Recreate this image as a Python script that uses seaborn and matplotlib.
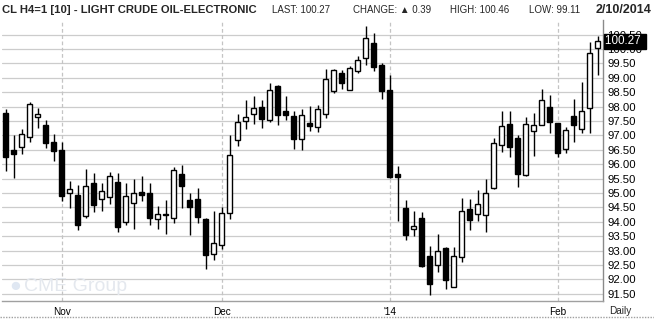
import numpy as np
import pandas as pd
import matplotlib
matplotlib.use("Agg")
import matplotlib.pyplot as plt
from matplotlib.lines import Line2D
import seaborn as sns

# ---------------- data ----------------
opens = [97.77, 96.50, 96.59, 96.94, 97.63, 97.35, 96.77, 96.50, 94.99, 94.92,
         94.19, 95.34, 94.78, 94.88, 95.38, 93.99, 94.65, 95.03, 95.00, 94.11,
         94.27, 94.13, 95.66, 94.76, 94.80, 94.10, 92.88, 93.21, 94.30, 96.83,
         97.49, 97.74, 97.98, 97.53, 98.71, 97.84, 97.67, 96.87, 97.42, 97.31,
         97.76, 98.53, 99.16, 98.59, 99.23, 99.68, 100.20, 99.45, 98.58, 95.66,
         94.47, 93.74, 94.14, 92.82, 92.49, 93.09, 91.75, 92.79, 94.45, 94.26,
         94.23, 95.17, 96.66, 97.39, 96.91, 95.62, 97.15, 97.38, 97.98, 97.42,
         96.53, 97.68, 97.22, 97.94, 100.03]
highs = [97.91, 97.02, 97.23, 98.16, 97.95, 97.54, 97.05, 96.76, 95.43, 95.28,
         95.84, 95.69, 95.34, 95.72, 95.70, 95.34, 95.49, 95.58, 95.34, 94.55,
         94.76, 95.90, 95.98, 94.99, 95.17, 94.13, 94.38, 94.53, 97.02, 97.74,
         98.23, 98.37, 98.23, 98.82, 98.75, 98.37, 97.84, 97.92, 98.02, 98.06,
         99.31, 99.30, 99.27, 99.41, 99.76, 100.80, 100.56, 99.52, 99.11, 95.95,
         94.76, 94.38, 94.34, 93.17, 93.57, 93.12, 93.13, 94.82, 94.80, 95.10,
         95.48, 96.92, 97.86, 97.86, 97.01, 97.65, 97.77, 98.61, 98.41, 97.45,
         97.28, 98.27, 98.86, 100.24, 100.46]
lows = [95.78, 95.53, 96.37, 96.78, 97.27, 96.58, 96.13, 94.74, 94.49, 93.72,
        94.15, 94.35, 94.39, 94.61, 93.64, 93.89, 93.75, 94.72, 93.90, 93.76,
        93.58, 93.97, 94.49, 93.55, 93.97, 92.35, 92.68, 93.05, 94.11, 96.64,
        97.24, 97.41, 97.27, 97.48, 97.38, 97.55, 96.54, 96.51, 97.17, 97.13,
        97.62, 98.47, 98.63, 98.57, 99.16, 99.45, 99.24, 98.28, 95.52, 94.04,
        93.37, 93.51, 92.44, 91.47, 92.25, 91.66, 91.73, 92.61, 93.72, 94.04,
        93.66, 95.13, 96.42, 96.24, 95.22, 95.60, 96.30, 97.35, 97.09, 96.25,
        96.38, 96.77, 97.10, 97.10, 99.11]
closes = [96.24, 96.37, 97.04, 98.08, 97.74, 96.75, 96.45, 94.91, 95.13, 93.90,
          95.25, 94.60, 95.08, 95.59, 93.83, 94.89, 94.99, 94.94, 94.15, 94.26,
          94.23, 95.79, 95.26, 94.53, 94.18, 92.86, 93.26, 94.30, 96.31, 97.46,
          97.63, 97.94, 97.56, 98.57, 97.70, 97.72, 96.87, 97.70, 97.32, 97.91,
          98.95, 99.26, 98.83, 99.33, 99.61, 100.38, 99.39, 98.53, 95.57, 95.57,
          93.56, 93.85, 92.47, 91.85, 92.99, 91.99, 92.82, 94.38, 94.08, 94.62,
          95.00, 96.73, 97.32, 96.61, 95.67, 97.41, 97.35, 98.23, 97.46, 96.40,
          97.18, 97.35, 97.85, 99.88, 100.27]
first_day = "2013-10-23"
last_day = "2014-02-10"
holidays = ["2013-11-28", "2013-12-25", "2014-01-01", "2014-01-20"]
month_starts = ["2013-11-01", "2013-12-02", "2014-01-02", "2014-02-03"]
month_labels = ["Nov", "Dec", "'14", "Feb"]
price_ticks = [91.50, 92.00, 92.50, 93.00, 93.50, 94.00, 94.50, 95.00, 95.50,
               96.00, 96.50, 97.00, 97.50, 98.00, 98.50, 99.00, 99.50, 100.00, 100.50]
title_text = "CL H4=1 [10] - LIGHT CRUDE OIL-ELECTRONIC"
last_val, change_val, high_val, low_val = 100.27, 0.39, 100.46, 99.11
date_text = "2/10/2014"

# ---------------- frame ----------------
dates = pd.bdate_range(first_day, last_day)
dates = dates[~dates.isin(pd.to_datetime(holidays))]
df = pd.DataFrame({"date": dates, "open": opens, "high": highs,
                   "low": lows, "close": closes})
df["idx"] = np.arange(len(df))
df["up"] = df["close"] >= df["open"]
df["body_lo"] = df[["open", "close"]].min(axis=1)
df["body_h"] = (df["close"] - df["open"]).abs()

sns.set_theme(style="white")
plt.rcParams["font.family"] = ["Liberation Sans", "DejaVu Sans"]

fig = plt.figure(figsize=(6.54, 3.20), dpi=100)
W, H = 654, 320
ax = fig.add_axes([2 / W, 19 / H, 601 / W, 281 / H])
ax.set_facecolor("white")

# gridlines
for p in price_ticks:
    ax.axhline(p, color="#cccccc", lw=0.9, zorder=0)
pos = [int(df.index[df["date"] == pd.Timestamp(d)][0]) for d in month_starts]
for x in pos:
    ax.axvline(x, color="#c4c4c4", lw=0.9, ls=(0, (3, 2)), zorder=0)

# candles
ax.vlines(df["idx"], df["low"], df["high"], color="black", lw=1.0, zorder=2)
ax.bar(df["idx"], np.maximum(df["body_h"], 0.02), bottom=df["body_lo"], width=0.68,
       color=np.where(df["up"], "white", "black"), edgecolor="black",
       linewidth=1.0, zorder=3)

ax.set_xlim(-0.46, 74.66)
ax.set_ylim(91.253, 101.01)

ax.yaxis.tick_right()
ax.set_yticks(price_ticks)
ax.set_yticklabels([f"{p:.2f}" for p in price_ticks], fontsize=8.2)
ax.set_xticks(pos)
ax.set_xticklabels(month_labels, fontsize=7.2)
ax.tick_params(axis="both", length=0, colors="black")
ax.tick_params(axis="y", pad=3)
ax.tick_params(axis="x", pad=4)

for s in ["left", "top"]:
    ax.spines[s].set_visible(False)
ax.spines["right"].set_color("#8a8a8a")
ax.spines["right"].set_linewidth(1)
ax.spines["bottom"].set_color("#a0a0a0")
ax.spines["bottom"].set_linestyle((0, (1, 1)))
ax.spines["bottom"].set_linewidth(1)

# bottom outer line
fig.add_artist(Line2D([0, 1], [1 - 317 / H, 1 - 317 / H], color="#a0a0a0",
                      lw=1, ls=(0, (1, 1)), transform=fig.transFigure))

# last price tag
ax.text(1.004, last_val, f"{last_val:.2f} ", transform=ax.get_yaxis_transform(),
        ha="left", va="center", color="white", fontsize=8.4, zorder=10,
        bbox=dict(boxstyle="square,pad=0.12", fc="black", ec="black"),
        clip_on=False)

# Daily label
fig.text(620 / W, 1 - 311 / H, "Daily", ha="center", va="center", fontsize=7.2)

# watermark
ax.text(0.012, 0.05, "\u25cf", transform=ax.transAxes, fontsize=14,
        color="#dfe7f2", ha="left", va="center", zorder=1)
ax.text(0.036, 0.05, "CME Group", transform=ax.transAxes, fontsize=14,
        color="#e4e8ee", ha="left", va="center", zorder=1)

# header
hdr_font = ["Liberation Sans", "DejaVu Sans"]
fig.text(2 / W, 1 - 10 / H, title_text, ha="left", va="center",
         fontsize=8.1, fontweight="bold", family=hdr_font)
fig.text(272 / W, 1 - 10 / H, f"LAST: {last_val:.2f}", ha="left", va="center",
         fontsize=7.0, family=hdr_font)
fig.text(353 / W, 1 - 10 / H, f"CHANGE: \u25b2 {change_val:.2f}", ha="left",
         va="center", fontsize=7.0, family=hdr_font)
fig.text(450 / W, 1 - 10 / H, f"HIGH: {high_val:.2f}", ha="left", va="center",
         fontsize=7.0, family=hdr_font)
fig.text(529 / W, 1 - 10 / H, f"LOW: {low_val:.2f}", ha="left", va="center",
         fontsize=7.0, family=hdr_font)
fig.text(651 / W, 1 - 10 / H, date_text, ha="right", va="center",
         fontsize=9, fontweight="bold", family=hdr_font)

fig.savefig("out.png", dpi=100, facecolor="white")
